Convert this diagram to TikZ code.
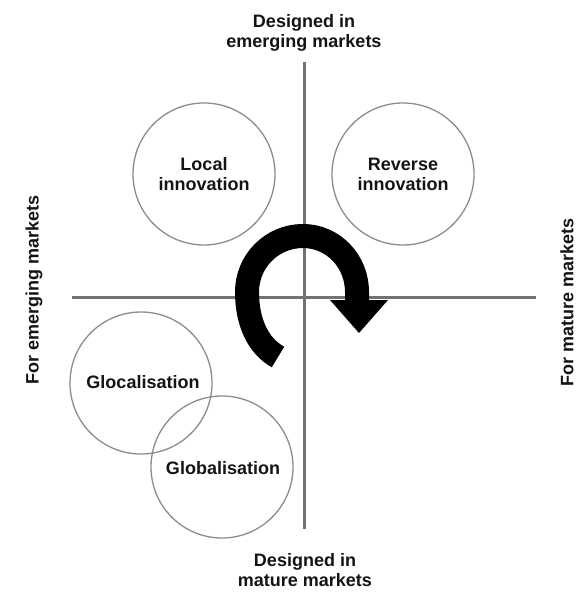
\documentclass[tikz,border=0pt]{standalone}
\usepackage{fontspec}
\setmainfont{Liberation Sans}
\begin{document}
\begin{tikzpicture}[x=1pt,y=-1pt,
  lbl/.style={font=\bfseries\fontsize{18}{20}\selectfont, text=black!92, align=center, inner sep=0pt},
  circ/.style={circle, draw=black!45, line width=1.3pt, minimum size=142pt, inner sep=0pt, lbl},
  axis/.style={draw=black!55, line width=3pt}]
\useasboundingbox (0,0) rectangle (579,601);
% axes
\coordinate (vt) at (304,62);
\coordinate (vb) at (304,529);
\coordinate (hl) at (72,297);
\coordinate (hr) at (536,297);
\draw[axis] (vt) -- (vb);
\draw[axis] (hl) -- (hr);
% circles
\node[circ] (local) at (204,174) {Local\\innovation};
\node[circ] (reverse) at (403,174) {Reverse\\innovation};
\node[circ] (glocal) at (141,383) {};
\node[circ] (global) at (222,467) {};
\node[lbl] (glocalt) at (143,382) {Glocalisation};
\node[lbl] (globalt) at (223,468) {Globalisation};
% axis labels
\node[lbl] (top) at (304,33) {Designed in\\emerging markets};
\node[lbl] (bottom) at (305,570) {Designed in\\mature markets};
\node[lbl, rotate=90] (left) at (34,290) {For emerging markets};
\node[lbl, rotate=90] (right) at (567,302) {For mature markets};
% curved arrow
\draw[black, line width=24pt]
  (278,357) .. controls (258,346) and (247,322) .. (247,292)
  .. controls (247,261) and (272,236) .. (303,236)
  .. controls (333,236) and (357,261) .. (357,292) -- (357,301);
\fill[black] (330,300) -- (388,300) -- (359,333) -- cycle;
\end{tikzpicture}
\end{document}
